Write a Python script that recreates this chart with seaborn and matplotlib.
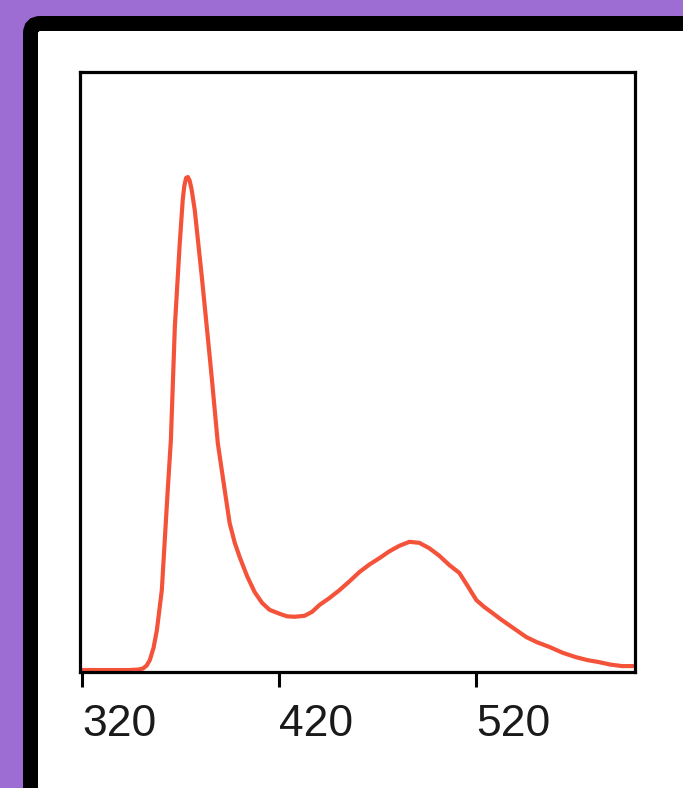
import numpy as np
import pandas as pd
import matplotlib
matplotlib.use("Agg")
import matplotlib.pyplot as plt
import seaborn as sns
from matplotlib.patches import FancyBboxPatch

# spectrum (wavelength, normalised intensity)
wavelength = [320.0, 334.2, 344.3, 348.5, 350.9, 352.8, 354.4, 356.3, 358.0, 360.5,
              362.0, 363.5, 365.1, 367.1, 369.6, 371.1, 371.9, 372.8, 373.7, 374.6,
              375.6, 377.2, 380.8, 383.3, 385.8, 388.9, 392.4, 394.9, 397.5, 400.0,
              403.8, 407.6, 411.4, 415.2, 420.3, 424.0, 427.8, 432.9, 436.7, 440.5,
              445.5, 450.6, 455.7, 460.8, 465.8, 470.9, 476.0, 481.0, 486.1, 491.1,
              496.2, 501.2, 506.3, 511.4, 515.7, 520.0, 524.0, 528.1, 532.4, 536.7,
              545.3, 551.0, 557.0, 563.8, 570.6, 576.5, 582.3, 588.1, 593.9, 599.5]
intensity = [0.000, 0.000, 0.000, 0.001, 0.003, 0.009, 0.020, 0.045, 0.081, 0.162,
             0.264, 0.365, 0.467, 0.696, 0.866, 0.953, 0.982, 0.998, 1.000, 0.993,
             0.975, 0.933, 0.797, 0.696, 0.594, 0.460, 0.365, 0.298, 0.258, 0.229,
             0.190, 0.158, 0.136, 0.122, 0.114, 0.109, 0.108, 0.110, 0.118, 0.132,
             0.146, 0.162, 0.180, 0.199, 0.214, 0.227, 0.241, 0.252, 0.260, 0.258,
             0.247, 0.232, 0.213, 0.197, 0.170, 0.142, 0.128, 0.116, 0.103, 0.091,
             0.067, 0.056, 0.047, 0.035, 0.026, 0.020, 0.016, 0.011, 0.008, 0.008]
xticks = [320, 420, 520]

df = pd.DataFrame({"wavelength": wavelength, "intensity": intensity})

sns.set_style("white")
plt.rcParams['font.family'] = ['Liberation Sans', 'DejaVu Sans']

fig = plt.figure(figsize=(6.83, 7.88), dpi=100, facecolor="#9E6DD3")

# black rounded frame with white inside (pixel coords)
frame = FancyBboxPatch((30.5, -40), 700, 788 - 23.5 + 40,
                       boxstyle="round,pad=0,rounding_size=10",
                       facecolor="white", edgecolor="black", linewidth=10.8,
                       transform=None, zorder=0)
fig.add_artist(frame)

ax = fig.add_axes([80 / 683, 1 - 672 / 788, 555 / 683, 600 / 788])
sns.lineplot(data=df, x="wavelength", y="intensity", color="#F4533A", linewidth=3.0, ax=ax)

ax.set_xlim(319, 600.5)
ax.set_ylim(-0.004, 1.213)
ax.set_xticks(xticks)
ax.set_xticklabels([str(t) for t in xticks])
ax.set_yticks([])
ax.set_xlabel("")
ax.set_ylabel("")
for s in ax.spines.values():
    s.set_color("black")
    s.set_linewidth(2.3)
ax.tick_params(axis="x", direction="out", length=11, width=2.2, color="black",
               labelsize=32, labelcolor="#1a1a1a", pad=12, bottom=True)
for lab in ax.get_xticklabels():
    lab.set_horizontalalignment("left")

fig.savefig("out.png", dpi=100, facecolor=fig.get_facecolor())
